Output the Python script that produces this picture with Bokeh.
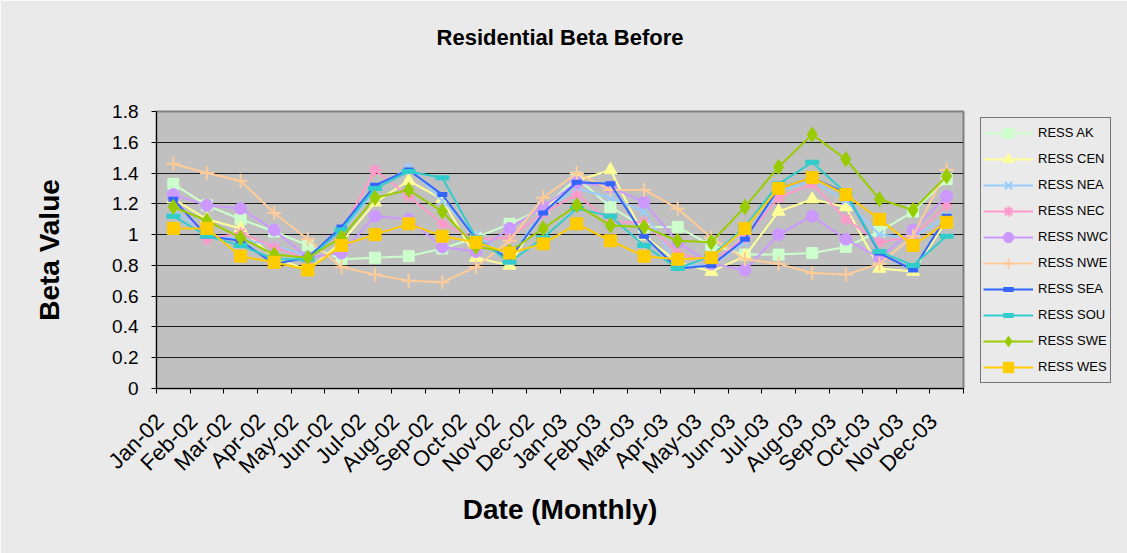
import math
from bokeh.plotting import figure
from bokeh.layouts import column
from bokeh.models import (Range1d, LinearAxis, FixedTicker, Title,
                          Legend, LegendItem, CustomJSTickFormatter)
from bokeh.embed import file_html
from bokeh.resources import INLINE

# ---------------- data ----------------
months = ["Jan-02", "Feb-02", "Mar-02", "Apr-02", "May-02", "Jun-02", "Jul-02", "Aug-02",
          "Sep-02", "Oct-02", "Nov-02", "Dec-02", "Jan-03", "Feb-03", "Mar-03", "Apr-03",
          "May-03", "Jun-03", "Jul-03", "Aug-03", "Sep-03", "Oct-03", "Nov-03", "Dec-03"]

series_names = ["RESS AK", "RESS CEN", "RESS NEA", "RESS NEC", "RESS NWC",
                "RESS NWE", "RESS SEA", "RESS SOU", "RESS SWE", "RESS WES"]

ress_ak = [1.33, 1.19, 1.10, 1.02, 0.93, 0.84, 0.85, 0.86, 0.91, 0.98, 1.07, 1.17,
           1.37, 1.18, 1.05, 1.05, 0.93, 0.87, 0.87, 0.88, 0.92, 1.02, 1.15, 1.36]
ress_cen = [1.23, 1.10, 1.04, 0.85, 0.77, 0.95, 1.21, 1.35, 1.23, 0.85, 0.80, 1.16,
            1.35, 1.42, 0.99, 0.82, 0.76, 0.86, 1.15, 1.23, 1.18, 0.78, 0.76, 1.09]
ress_nea = [1.16, 1.00, 0.97, 0.93, 0.86, 1.02, 1.29, 1.44, 1.22, 1.00, 0.85, 1.15,
            1.30, 1.24, 1.15, 0.80, 0.80, 0.95, 1.28, 1.35, 1.22, 1.00, 0.98, 1.12]
ress_nec = [1.24, 0.97, 1.01, 0.92, 0.84, 1.02, 1.42, 1.25, 1.07, 0.97, 0.98, 1.14,
            1.26, 1.08, 1.08, 0.88, 0.82, 0.98, 1.24, 1.33, 1.10, 0.95, 0.99, 1.19]
ress_nwc = [1.26, 1.19, 1.17, 1.03, 0.85, 0.88, 1.12, 1.10, 0.92, 0.89, 1.04, 1.18,
            1.34, 1.31, 1.21, 0.95, 0.81, 0.77, 1.00, 1.12, 0.97, 0.85, 1.03, 1.25]
ress_nwe = [1.46, 1.40, 1.35, 1.14, 0.97, 0.79, 0.74, 0.70, 0.69, 0.79, 0.96, 1.24,
            1.40, 1.29, 1.29, 1.17, 0.98, 0.84, 0.81, 0.75, 0.74, 0.81, 0.99, 1.42]
ress_sea = [1.23, 0.99, 0.96, 0.81, 0.85, 1.05, 1.32, 1.42, 1.26, 0.97, 0.84, 1.14,
            1.34, 1.33, 0.99, 0.78, 0.80, 0.97, 1.30, 1.37, 1.27, 0.88, 0.77, 1.12]
ress_sou = [1.12, 0.99, 0.93, 0.84, 0.84, 1.03, 1.30, 1.41, 1.37, 0.98, 0.82, 0.98,
            1.17, 1.12, 0.93, 0.78, 0.86, 1.05, 1.33, 1.47, 1.27, 0.89, 0.80, 0.99]
ress_swe = [1.18, 1.09, 0.98, 0.87, 0.85, 0.98, 1.24, 1.29, 1.15, 0.92, 0.89, 1.04,
            1.19, 1.06, 1.05, 0.96, 0.95, 1.18, 1.44, 1.65, 1.49, 1.23, 1.16, 1.38]
ress_wes = [1.04, 1.04, 0.86, 0.82, 0.77, 0.93, 1.00, 1.07, 0.99, 0.95, 0.88, 0.94,
            1.07, 0.96, 0.86, 0.84, 0.85, 1.04, 1.30, 1.37, 1.26, 1.10, 0.93, 1.08]

y_ticks = [0, 0.2, 0.4, 0.6, 0.8, 1.0, 1.2, 1.4, 1.6, 1.8]

all_series = [ress_ak, ress_cen, ress_nea, ress_nec, ress_nwc,
              ress_nwe, ress_sea, ress_sou, ress_swe, ress_wes]

# category index positions (one per month) and the boundaries between them
cat_pos = list(range(len(months)))
cat_bounds = [i - 0.5 for i in range(len(months) + 1)]

# ---------------- styles ----------------
styles = [
    dict(color="#CCFFCC", marker="square", size=11, lw=1),
    dict(color="#FFFF99", marker="triangle", size=13, lw=1),
    dict(color="#99CCFF", marker="x", size=11, lw=2),
    dict(color="#FF99CC", marker="asterisk", size=12, lw=2),
    dict(color="#CC99FF", marker="circle", size=12, lw=1),
    dict(color="#FFCC99", marker="cross", size=14, lw=2),
    dict(color="#3366FF", marker="dash", size=10, lw=5),
    dict(color="#33CCCC", marker="dash", size=14, lw=5),
    dict(color="#99CC00", marker="diamond", size=15, lw=1),
    dict(color="#FFCC00", marker="square", size=12, lw=1),
]

FONT = "Liberation Sans"
LABEL_SHIFT = 0.4   # rotated month labels end a little left of the category centre

W, H = 1127, 553
FL, FT, FW, FH = 156, 111, 807, 277

p = figure(frame_width=FW, frame_height=FH,
           x_range=Range1d(cat_bounds[0], cat_bounds[-1]),
           y_range=Range1d(0, 1.8), x_axis_type=None,
           output_backend="svg", toolbar_location=None,
           min_border_left=FL, min_border_top=FT,
           min_border_right=W - FL - FW, min_border_bottom=H - FT - FH)

p.background_fill_color = "#C0C0C0"
p.border_fill_color = "#EAEAEA"
p.outline_line_color = "#808080"
p.outline_line_width = 2

# title (a blank spacer title sits between the frame and the real title)
spacer = Title(text=" ", text_font=FONT, text_font_size="21px", standoff=32)
p.add_layout(spacer, "above")
p.title.text = "Residential Beta Before"
p.title.align = "center"
p.title.text_font = FONT
p.title.text_font_style = "bold"
p.title.text_font_size = "22px"
p.title.text_color = "black"
p.title.standoff = 10

# y axis
yax = p.yaxis[0]
yax.ticker = FixedTicker(ticks=y_ticks)
yax.formatter = CustomJSTickFormatter(code="return String(Math.round(tick*10)/10)")
yax.major_label_text_font = FONT
yax.major_label_text_font_size = "19px"
yax.major_label_text_color = "black"
yax.major_tick_out = 5
yax.major_tick_in = 0
yax.minor_tick_line_color = None
yax.axis_line_color = "black"
yax.major_tick_line_color = "black"
yax.major_label_standoff = 13
yax.axis_label = "Beta Value"
yax.axis_label_text_font = FONT
yax.axis_label_text_font_style = "bold"
yax.axis_label_text_font_size = "28px"
yax.axis_label_text_color = "black"
yax.axis_label_standoff = 44

p.ygrid.ticker = FixedTicker(ticks=y_ticks)
p.ygrid.grid_line_color = "#1a1a1a"
p.ygrid.grid_line_width = 1

# x axis: month labels near category centres, tick marks at category boundaries
label_pos = [c - LABEL_SHIFT for c in cat_pos]
xax = LinearAxis(ticker=FixedTicker(ticks=label_pos, minor_ticks=cat_bounds),
                 major_label_overrides={lp: m for lp, m in zip(label_pos, months)},
                 major_tick_line_color=None, major_tick_out=0, major_tick_in=0,
                 minor_tick_line_color="black", minor_tick_out=5, minor_tick_in=0,
                 axis_line_color="black",
                 major_label_orientation=math.pi / 4,
                 major_label_text_font=FONT,
                 major_label_text_font_size="22px",
                 major_label_text_color="black",
                 major_label_standoff=24,
                 axis_label="Date (Monthly)",
                 axis_label_text_font=FONT,
                 axis_label_text_font_style="bold",
                 axis_label_text_font_size="28px",
                 axis_label_text_color="black",
                 axis_label_standoff=4)
p.add_layout(xax, "below")

# series
items = []
for name, vals, st in zip(series_names, all_series, styles):
    r_line = p.line(cat_pos, vals, line_color=st["color"], line_width=2)
    r_mark = p.scatter(cat_pos, vals, marker=st["marker"], size=st["size"],
                       fill_color=st["color"], line_color=st["color"],
                       line_width=st["lw"])
    items.append(LegendItem(label=name, renderers=[r_line, r_mark]))

legend = Legend(items=items, location="center_left", margin=17, padding=2, spacing=0,
                glyph_width=50, glyph_height=26, label_standoff=5,
                label_text_font=FONT, label_text_font_size="13px",
                label_text_color="black",
                border_line_color="black", border_line_width=1,
                background_fill_color="#EAEAEA", background_fill_alpha=1)
p.add_layout(legend, "right")

page = column(p, styles={"outline": "1px solid #000", "outline-offset": "-6px"})

open("out.html", "w").write(file_html(page, INLINE))
